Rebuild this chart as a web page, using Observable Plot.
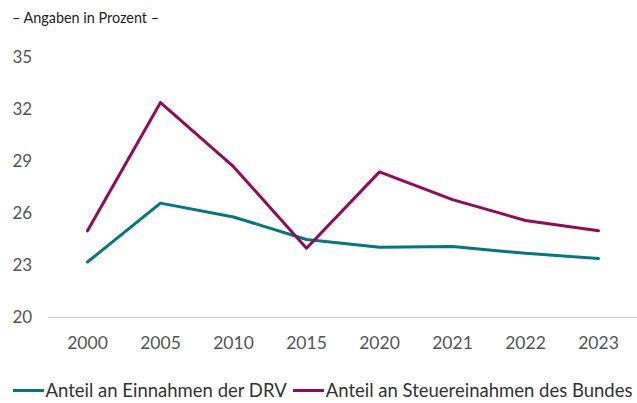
<!DOCTYPE html>
<html>
<head>
<meta charset="utf-8">
<script src="https://cdn.jsdelivr.net/npm/d3@7"></script>
<script src="https://cdn.jsdelivr.net/npm/@observablehq/plot@0.6"></script>
<style>
  body { margin: 0; background: #fff; font-family: "Source Sans Pro", Lato, sans-serif; overflow: hidden; }
  #title { height: 36px; line-height: 36px; padding-left: 12px; font-size: 14.4px; color: #222; }
  #legend { display: flex; justify-content: center; align-items: center; gap: 6px; font-size: 18.5px; color: #333; white-space: nowrap; margin-top: 8px; margin-left: 8px; }
  .item { display: flex; align-items: center; }
  .sw { width: 31px; height: 3px; margin-right: 2px; }
</style>
</head>
<body>
<div id="title">– Angaben in Prozent –</div>
<div id="chart"></div>
<div id="legend"></div>
<script>
const years = ["2000", "2005", "2010", "2015", "2020", "2021", "2022", "2023"];
const drv = [23.2, 26.6, 25.8, 24.5, 24.05, 24.1, 23.7, 23.4];
const bund = [25.0, 32.4, 28.7, 24.0, 28.4, 26.8, 25.6, 25.0];
const seriesNames = ["Anteil an Einnahmen der DRV", "Anteil an Steuereinahmen des Bundes"];
const colors = ["#00787e", "#900c58"];
const yTicks = [20, 23, 26, 29, 32, 35];

const data = [
  ...years.map((y, i) => ({year: y, value: drv[i], series: seriesNames[0]})),
  ...years.map((y, i) => ({year: y, value: bund[i], series: seriesNames[1]}))
];

const chart = Plot.plot({
  width: 637,
  height: 335,
  marginTop: 21,
  marginBottom: 54,
  marginLeft: 48,
  marginRight: 0,
  style: {fontFamily: '"Source Sans Pro", Lato, sans-serif', fontSize: "17px", color: "#555"},
  x: {type: "point", domain: years, padding: 0.5, label: null},
  y: {domain: [20, 35], label: null},
  color: {domain: seriesNames, range: colors},
  marks: [
    Plot.ruleY([20], {stroke: "#d0d0d0", strokeWidth: 1}),
    Plot.axisY({ticks: yTicks, tickSize: 0, textAnchor: "start", dx: -36, tickPadding: 0, fontSize: 17, label: null}),
    Plot.axisX({tickSize: 0, tickPadding: 19, fontSize: 17.5, label: null}),
    Plot.line(data, {x: "year", y: "value", stroke: "series", z: "series", strokeWidth: 3})
  ]
});
document.getElementById("chart").appendChild(chart);

const legend = document.getElementById("legend");
seriesNames.forEach((n, i) => {
  const it = document.createElement("div");
  it.className = "item";
  const sw = document.createElement("span");
  sw.className = "sw";
  sw.style.background = colors[i];
  it.appendChild(sw);
  const t = document.createElement("span");
  t.textContent = n;
  it.appendChild(t);
  legend.appendChild(it);
});
</script>
</body>
</html>
